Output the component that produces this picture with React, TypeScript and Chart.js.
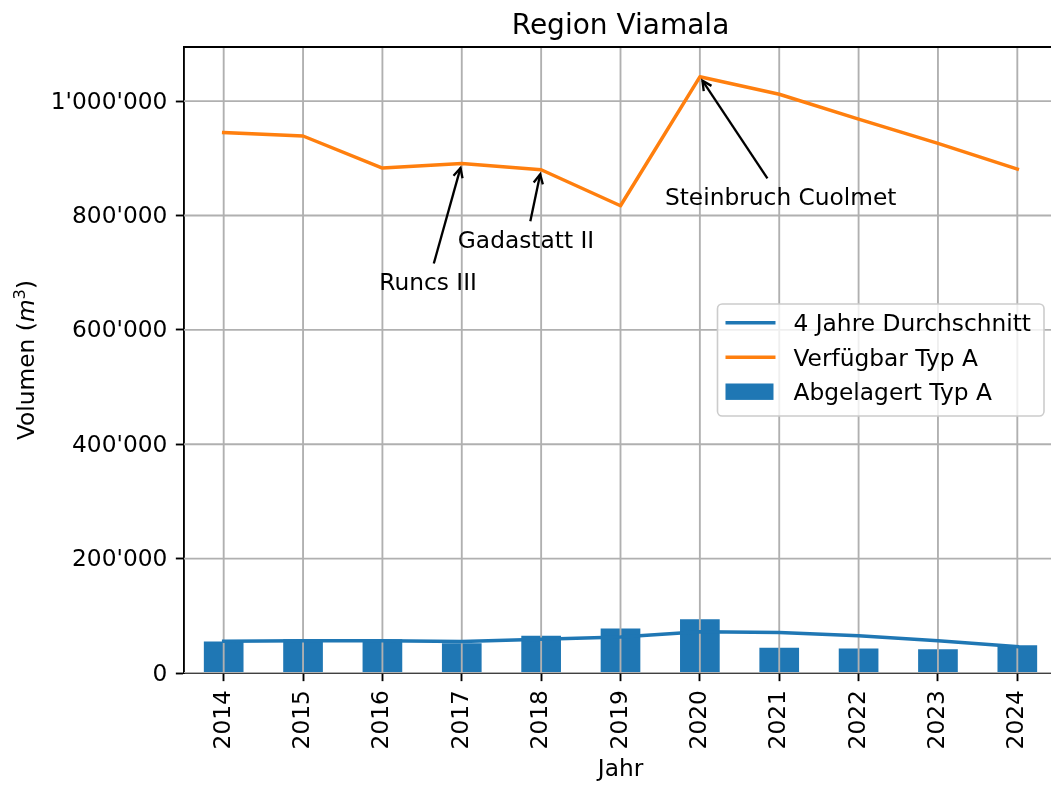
import React, { useEffect, useRef } from 'react';
import { Chart, registerables } from 'chart.js';

Chart.register(...registerables);

// ---- data ----
const years = ['2014', '2015', '2016', '2017', '2018', '2019', '2020', '2021', '2022', '2023', '2024'];
const abgelagert = [55000, 59000, 59000, 52000, 65000, 78000, 94000, 44000, 43000, 41500, 48500];
const durchschnitt = [55500, 56500, 56500, 55000, 59000, 63000, 72000, 71000, 65000, 56500, 46000];
const verfuegbar = [945000, 939000, 883000, 891000, 880000, 817000, 1042500, 1012000, 968500, 926000, 881000];
const yTicks = [0, 200000, 400000, 600000, 800000, 1000000];
const seriesLabels = ['4 Jahre Durchschnitt', 'Verfügbar Typ A', 'Abgelagert Typ A'];
const annotations = [
  { label: 'Runcs III', year: '2017', textX: 1.96, textY: 669000 },
  { label: 'Gadastatt II', year: '2018', textX: 2.95, textY: 743000 },
  { label: 'Steinbruch Cuolmet', year: '2020', textX: 5.56, textY: 819000 },
];
const titleText = 'Region Viamala';
const xTitle = 'Jahr';

// ---- style ----
const PT = 2.33;
const FAMILY = "'DejaVu Sans', sans-serif";
const FS = 23.3;
const TITLE_FS = 28;
const BLUE = '#1f77b4';
const ORANGE = '#ff7f0e';
const GRID = '#b0b0b0';

const fmt = (v: number) => String(Math.round(v)).replace(/\B(?=(\d{3})+(?!\d))/g, "'");

const mplPlugin = {
  id: 'mpl',
  afterDatasetDraw(chart: any, args: any) {
    if (args.index !== 2) return;
    const { ctx, chartArea: ca } = chart;
    const xs = chart.scales.x;
    const ys = chart.scales.y;
    ctx.save();
    ctx.beginPath();
    ctx.rect(ca.left, ca.top, ca.right - ca.left, ca.bottom - ca.top);
    ctx.clip();
    ctx.strokeStyle = GRID;
    ctx.lineWidth = 0.8 * PT;
    ctx.lineCap = 'butt';
    years.forEach((_, i) => {
      const x = xs.getPixelForValue(i);
      ctx.beginPath();
      ctx.moveTo(x, ca.top);
      ctx.lineTo(x, ca.bottom);
      ctx.stroke();
    });
    yTicks.forEach((v) => {
      const y = ys.getPixelForValue(v);
      ctx.beginPath();
      ctx.moveTo(ca.left, y);
      ctx.lineTo(ca.right, y);
      ctx.stroke();
    });
    ctx.restore();
  },
  afterDraw(chart: any) {
    const { ctx, chartArea: ca } = chart;
    const xs = chart.scales.x;
    const ys = chart.scales.y;
    const cx = (ca.left + ca.right) / 2;
    const cy = (ca.top + ca.bottom) / 2;
    ctx.save();
    // top & right spines
    ctx.strokeStyle = '#000';
    ctx.lineWidth = 0.8 * PT;
    ctx.beginPath();
    ctx.moveTo(ca.left, ca.top);
    ctx.lineTo(ca.right, ca.top);
    ctx.lineTo(ca.right, ca.bottom);
    ctx.stroke();

    // title
    ctx.fillStyle = '#000';
    ctx.textAlign = 'center';
    ctx.textBaseline = 'alphabetic';
    ctx.font = `${TITLE_FS}px ${FAMILY}`;
    ctx.fillText(titleText, cx, ca.top - 13);

    // x title
    ctx.font = `${FS}px ${FAMILY}`;
    ctx.fillText(xTitle, cx, ca.bottom + 103);

    // y title with mathtext-like m^3
    const normal = `${FS}px ${FAMILY}`;
    const italic = `oblique ${FS}px ${FAMILY}`;
    const sup = `${FS * 0.7}px ${FAMILY}`;
    const parts = [
      { t: 'Volumen (', f: normal, dy: 0 },
      { t: 'm', f: italic, dy: 0 },
      { t: '3', f: sup, dy: -9 },
      { t: ')', f: normal, dy: 0 },
    ];
    let total = 0;
    const widths = parts.map((p) => {
      ctx.font = p.f;
      const w = ctx.measureText(p.t).width;
      total += w;
      return w;
    });
    ctx.save();
    ctx.translate(34, cy);
    ctx.rotate(-Math.PI / 2);
    ctx.textAlign = 'left';
    let px = -total / 2;
    parts.forEach((p, i) => {
      ctx.font = p.f;
      ctx.fillText(p.t, px, p.dy);
      px += widths[i];
    });
    ctx.restore();

    // annotations
    ctx.font = `${FS}px ${FAMILY}`;
    ctx.textAlign = 'left';
    annotations.forEach((a) => {
      const idx = years.indexOf(a.year);
      const tx = xs.getPixelForValue(idx);
      const ty = ys.getPixelForValue(verfuegbar[idx]);
      const ox = xs.getPixelForValue(a.textX);
      const oy = ys.getPixelForValue(a.textY);
      ctx.fillStyle = '#000';
      ctx.fillText(a.label, ox, oy);
      const w = ctx.measureText(a.label).width;
      const pad = 4 * PT;
      const bx0 = ox - pad / 2;
      const bx1 = ox + w + pad / 2;
      const by0 = oy - 0.76 * FS - pad / 2;
      const by1 = oy + 0.224 * FS + pad / 2;
      const sx = (bx0 + bx1) / 2;
      const sy = (by0 + by1) / 2;
      const dx = tx - sx;
      const dy = ty - sy;
      const len = Math.hypot(dx, dy);
      const ux = dx / len;
      const uy = dy / len;
      let tExit = Infinity;
      if (ux !== 0) tExit = Math.min(tExit, ((ux > 0 ? bx1 : bx0) - sx) / ux);
      if (uy !== 0) tExit = Math.min(tExit, ((uy > 0 ? by1 : by0) - sy) / uy);
      const shrink = 2 * PT;
      const ax = sx + ux * (tExit + shrink);
      const ay = sy + uy * (tExit + shrink);
      const ex = tx - ux * shrink;
      const ey = ty - uy * shrink;
      ctx.strokeStyle = '#000';
      ctx.lineWidth = 1 * PT;
      ctx.lineCap = 'butt';
      ctx.lineJoin = 'miter';
      ctx.beginPath();
      ctx.moveTo(ax, ay);
      ctx.lineTo(ex, ey);
      ctx.stroke();
      const hl = 0.4 * 10 * PT;
      const hw = 0.2 * 10 * PT;
      const bxp = ex - ux * hl;
      const byp = ey - uy * hl;
      ctx.beginPath();
      ctx.moveTo(bxp - uy * hw, byp + ux * hw);
      ctx.lineTo(ex, ey);
      ctx.lineTo(bxp + uy * hw, byp - ux * hw);
      ctx.stroke();
    });

    // legend
    ctx.font = `${FS}px ${FAMILY}`;
    const textW = Math.max(...seriesLabels.map((s) => ctx.measureText(s).width));
    const right = ca.right - 13;
    const left = right - (76 + textW + 13);
    const h = 112;
    const top = cy - h / 2;
    ctx.beginPath();
    ctx.roundRect(left, top, right - left, h, 4.7);
    ctx.fillStyle = 'rgba(255,255,255,0.8)';
    ctx.fill();
    ctx.strokeStyle = '#cccccc';
    ctx.lineWidth = 1.6;
    ctx.stroke();
    const colors = [BLUE, ORANGE, BLUE];
    seriesLabels.forEach((s, i) => {
      const base = top + 27 + i * 34.5;
      const mid = base - 8.3;
      if (i < 2) {
        ctx.strokeStyle = colors[i];
        ctx.lineWidth = 1.5 * PT;
        ctx.lineCap = 'butt';
        ctx.beginPath();
        ctx.moveTo(left + 8, mid);
        ctx.lineTo(left + 58, mid);
        ctx.stroke();
      } else {
        ctx.fillStyle = colors[i];
        ctx.fillRect(left + 8, mid - 8.2, 48, 16.4);
      }
      ctx.fillStyle = '#000';
      ctx.textAlign = 'left';
      ctx.fillText(s, left + 76, base);
    });
    ctx.restore();
  },
};

export default function App() {
  const ref = useRef<HTMLCanvasElement | null>(null);
  useEffect(() => {
    const canvas = ref.current;
    if (!canvas) return;
    const chart = new Chart(canvas, {
      type: 'bar',
      data: {
        labels: years,
        datasets: [
          {
            type: 'line',
            label: seriesLabels[0],
            data: durchschnitt,
            borderColor: BLUE,
            backgroundColor: BLUE,
            borderWidth: 1.5 * PT,
            pointRadius: 0,
            tension: 0,
            borderJoinStyle: 'round',
            borderCapStyle: 'square',
            order: 0,
          } as any,
          {
            type: 'line',
            label: seriesLabels[1],
            data: verfuegbar,
            borderColor: ORANGE,
            backgroundColor: ORANGE,
            borderWidth: 1.5 * PT,
            pointRadius: 0,
            tension: 0,
            borderJoinStyle: 'round',
            borderCapStyle: 'square',
            order: 0,
          } as any,
          {
            type: 'bar',
            label: seriesLabels[2],
            data: abgelagert,
            backgroundColor: BLUE,
            borderWidth: 0,
            barPercentage: 0.5,
            categoryPercentage: 1,
            order: 1,
          } as any,
        ],
      },
      options: {
        responsive: false,
        animation: false,
        devicePixelRatio: 1,
        layout: { padding: { top: 47, left: 0, right: 13, bottom: 0 } },
        plugins: {
          legend: { display: false },
          title: { display: false },
          tooltip: { enabled: false },
        },
        scales: {
          x: {
            offset: true,
            grid: {
              display: true,
              drawOnChartArea: false,
              drawTicks: true,
              tickLength: 3.5 * PT,
              tickWidth: 0.8 * PT,
              tickColor: '#000',
              offset: false,
            },
            border: { display: true, color: '#000', width: 0.8 * PT },
            ticks: {
              autoSkip: false,
              minRotation: 90,
              maxRotation: 90,
              padding: 9,
              color: '#000',
              font: { family: FAMILY, size: FS },
            },
            afterFit: (s: any) => {
              s.height = 112;
            },
          },
          y: {
            min: 0,
            max: Math.max(...verfuegbar) * 1.05,
            grid: {
              display: true,
              drawOnChartArea: false,
              drawTicks: true,
              tickLength: 3.5 * PT,
              tickWidth: 0.8 * PT,
              tickColor: '#000',
            },
            border: { display: true, color: '#000', width: 0.8 * PT },
            ticks: {
              autoSkip: false,
              padding: 8.5,
              labelOffset: 1.5,
              color: '#000',
              font: { family: FAMILY, size: FS },
              callback: (v: any) => fmt(Number(v)),
            },
            afterBuildTicks: (s: any) => {
              s.ticks = yTicks.map((v) => ({ value: v }));
            },
            afterFit: (s: any) => {
              s.width = 184;
            },
          },
        },
      } as any,
      plugins: [mplPlugin],
    });
    return () => chart.destroy();
  }, []);

  return (
    <div style={{ position: 'fixed', left: 0, top: 0, width: 1051, height: 785, overflow: 'hidden', background: '#fff' }}>
      <canvas ref={ref} width={1070} height={785} style={{ width: 1070, height: 785, display: 'block' }} />
    </div>
  );
}
